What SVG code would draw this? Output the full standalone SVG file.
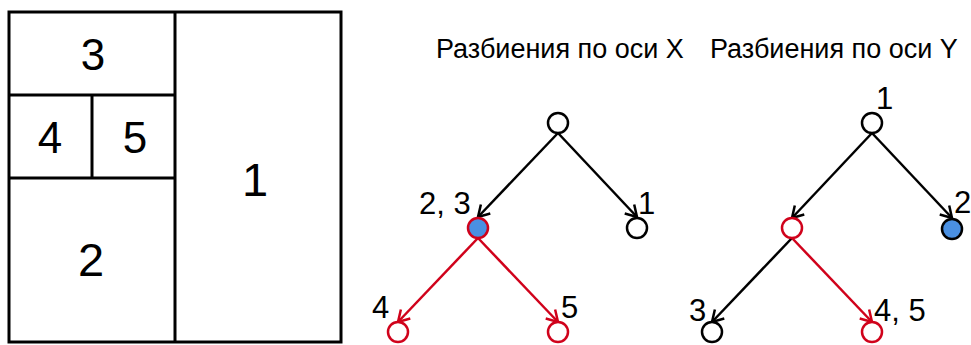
<svg xmlns="http://www.w3.org/2000/svg" width="971" height="345" viewBox="0 0 971 345">
<style>
text{font-family:"Liberation Sans",Arial,sans-serif;fill:#000}
.box{fill:none;stroke:#000;stroke-width:3}
.big{font-size:44px;text-anchor:middle}
.bigger{font-size:47px}
.title{font-size:27px}
.lab{font-size:31px}
.n{fill:#fff;stroke:#000;stroke-width:2.5}
.nr{fill:#fff;stroke:#d0021b;stroke-width:2.5}
.nb{fill:#4a90e2;stroke:#000;stroke-width:2.5}
.nbr{fill:#4a90e2;stroke:#d0021b;stroke-width:2.5}
.e{fill:none;stroke:#000;stroke-width:2.5;marker-end:url(#ak)}
.er{fill:none;stroke:#d0021b;stroke-width:2.5;marker-end:url(#ar)}
</style>
<defs>
<marker id="ak" markerUnits="userSpaceOnUse" markerWidth="16" markerHeight="16" refX="13" refY="8" orient="auto" viewBox="0 0 16 16"><path d="M2,1.5 L13,8 L2,14.5" fill="none" stroke="#000" stroke-width="2.5"/></marker>
<marker id="ar" markerUnits="userSpaceOnUse" markerWidth="16" markerHeight="16" refX="13" refY="8" orient="auto" viewBox="0 0 16 16"><path d="M2,1.5 L13,8 L2,14.5" fill="none" stroke="#d0021b" stroke-width="2.5"/></marker>
</defs>
<g id="plan">
<rect class="box" x="9" y="12" width="332" height="330"/>
<line class="box" x1="175" y1="12" x2="175" y2="342"/>
<line class="box" x1="9" y1="95" x2="175" y2="95"/>
<line class="box" x1="9" y1="178" x2="175" y2="178"/>
<line class="box" x1="92" y1="95" x2="92" y2="178"/>
<text class="big" x="93" y="70">3</text>
<text class="big" x="50" y="153">4</text>
<text class="big" x="135" y="153">5</text>
<text class="big bigger" x="91" y="276">2</text>
<text class="big bigger" x="255" y="196">1</text>
</g>
<text class="title" x="436" y="58">Разбиения по оси X</text>
<text class="title" x="710" y="58">Разбиения по оси Y</text>
<g id="connectors">
<line class="e" x1="558" y1="133" x2="478" y2="217"/>
<line class="e" x1="558" y1="133" x2="637" y2="217"/>
<line class="er" x1="478" y1="238" x2="398" y2="322"/>
<line class="er" x1="478" y1="238" x2="558" y2="322"/>
<line class="e" x1="872" y1="133" x2="792" y2="218"/>
<line class="e" x1="872" y1="133" x2="952" y2="218"/>
<line class="e" x1="792" y1="238" x2="712" y2="322"/>
<line class="er" x1="792" y1="238" x2="872" y2="322"/>
</g>
<g id="x-root"><circle class="n" cx="558" cy="123" r="10"/></g>
<g id="x-23"><circle class="nbr" cx="478" cy="228" r="10"/><text class="lab" x="419" y="214">2, 3</text></g>
<g id="x-1"><circle class="n" cx="637" cy="228" r="10"/><text class="lab" x="638" y="214">1</text></g>
<g id="x-4"><circle class="nr" cx="398" cy="332" r="10"/><text class="lab" x="372" y="318">4</text></g>
<g id="x-5"><circle class="nr" cx="558" cy="332" r="10"/><text class="lab" x="561" y="318">5</text></g>
<g id="y-1"><circle class="n" cx="872" cy="123" r="10"/><text class="lab" x="876" y="109">1</text></g>
<g id="y-mid"><circle class="nr" cx="792" cy="228" r="10"/></g>
<g id="y-2"><circle class="nb" cx="952" cy="229" r="10"/><text class="lab" x="954" y="213">2</text></g>
<g id="y-3"><circle class="n" cx="712" cy="332" r="10"/><text class="lab" x="689" y="321">3</text></g>
<g id="y-45"><circle class="nr" cx="872" cy="332" r="10"/><text class="lab" x="874" y="321">4, 5</text></g>
</svg>
